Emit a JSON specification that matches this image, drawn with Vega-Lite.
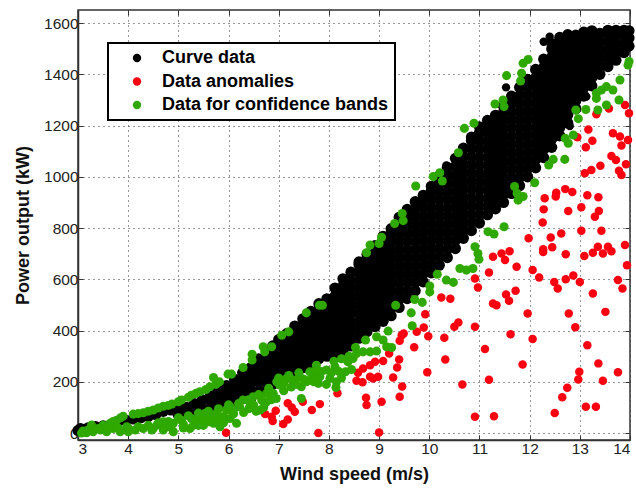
{"$schema":"https://vega.github.io/schema/vega-lite/v6.json","width":552,"height":430,"autosize":{"type":"none"},"padding":{"left":78,"top":10,"right":6,"bottom":49},"background":"white",
"datasets":{"curve":[
{"w":3.0,"p":10},{"w":3.05,"p":18},{"w":3.1,"p":12},{"w":3.2,"p":20},{"w":3.35,"p":25},{"w":3.5,"p":28},{"w":3.65,"p":30},{"w":3.8,"p":45},{"w":3.95,"p":50},{"w":4.1,"p":55},{"w":4.25,"p":60},{"w":4.4,"p":65},{"w":4.55,"p":72},{"w":4.7,"p":85},{"w":4.85,"p":90},{"w":5.0,"p":95},{"w":5.0,"p":70},{"w":5.16,"p":100},{"w":5.16,"p":75},{"w":5.32,"p":115},{"w":5.32,"p":85},{"w":5.48,"p":130},{"w":5.48,"p":95},{"w":5.64,"p":155},{"w":5.64,"p":125},{"w":5.64,"p":95},{"w":5.8,"p":170},{"w":5.8,"p":140},{"w":5.8,"p":110},{"w":5.96,"p":185},{"w":5.96,"p":155},{"w":5.96,"p":125},{"w":6.12,"p":210},{"w":6.12,"p":180},{"w":6.12,"p":150},{"w":6.12,"p":120},{"w":6.28,"p":235},{"w":6.28,"p":205},{"w":6.28,"p":175},{"w":6.28,"p":140},{"w":6.44,"p":255},{"w":6.44,"p":225},{"w":6.44,"p":195},{"w":6.44,"p":165},{"w":6.44,"p":135},{"w":6.6,"p":290},{"w":6.6,"p":260},{"w":6.6,"p":230},{"w":6.6,"p":200},{"w":6.6,"p":165},{"w":6.76,"p":320},{"w":6.76,"p":290},{"w":6.76,"p":260},{"w":6.76,"p":230},{"w":6.76,"p":200},{"w":6.76,"p":170},{"w":6.88,"p":340},{"w":6.88,"p":310},{"w":6.88,"p":280},{"w":6.88,"p":250},{"w":6.88,"p":220},{"w":6.88,"p":190},
{"w":7.0,"p":210},{"w":7.0,"p":242},{"w":7.0,"p":274},{"w":7.0,"p":306},{"w":7.0,"p":338},{"w":7.0,"p":365},
{"w":7.16,"p":228},{"w":7.16,"p":260},{"w":7.16,"p":292},{"w":7.16,"p":324},{"w":7.16,"p":356},{"w":7.16,"p":388},
{"w":7.32,"p":240},{"w":7.32,"p":272},{"w":7.32,"p":304},{"w":7.32,"p":336},{"w":7.32,"p":368},{"w":7.32,"p":400},{"w":7.32,"p":418},
{"w":7.48,"p":255},{"w":7.48,"p":287},{"w":7.48,"p":319},{"w":7.48,"p":351},{"w":7.48,"p":383},{"w":7.48,"p":415},{"w":7.48,"p":446},
{"w":7.64,"p":270},{"w":7.64,"p":302},{"w":7.64,"p":334},{"w":7.64,"p":366},{"w":7.64,"p":398},{"w":7.64,"p":430},{"w":7.64,"p":462},{"w":7.64,"p":475},
{"w":7.8,"p":290},{"w":7.8,"p":322},{"w":7.8,"p":354},{"w":7.8,"p":386},{"w":7.8,"p":418},{"w":7.8,"p":450},{"w":7.8,"p":482},{"w":7.8,"p":505},
{"w":7.96,"p":300},{"w":7.96,"p":332},{"w":7.96,"p":364},{"w":7.96,"p":396},{"w":7.96,"p":428},{"w":7.96,"p":460},{"w":7.96,"p":492},{"w":7.96,"p":524},
{"w":8.12,"p":310},{"w":8.12,"p":342},{"w":8.12,"p":374},{"w":8.12,"p":406},{"w":8.12,"p":438},{"w":8.12,"p":470},{"w":8.12,"p":502},{"w":8.12,"p":534},{"w":8.12,"p":566},
{"w":8.28,"p":318},{"w":8.28,"p":350},{"w":8.28,"p":382},{"w":8.28,"p":414},{"w":8.28,"p":446},{"w":8.28,"p":478},{"w":8.28,"p":510},{"w":8.28,"p":542},{"w":8.28,"p":574},{"w":8.28,"p":602},
{"w":8.44,"p":340},{"w":8.44,"p":372},{"w":8.44,"p":404},{"w":8.44,"p":436},{"w":8.44,"p":468},{"w":8.44,"p":500},{"w":8.44,"p":532},{"w":8.44,"p":564},{"w":8.44,"p":596},{"w":8.44,"p":628},
{"w":8.6,"p":370},{"w":8.6,"p":402},{"w":8.6,"p":434},{"w":8.6,"p":466},{"w":8.6,"p":498},{"w":8.6,"p":530},{"w":8.6,"p":562},{"w":8.6,"p":594},{"w":8.6,"p":626},{"w":8.6,"p":658},{"w":8.6,"p":668},
{"w":8.76,"p":396},{"w":8.76,"p":428},{"w":8.76,"p":460},{"w":8.76,"p":492},{"w":8.76,"p":524},{"w":8.76,"p":556},{"w":8.76,"p":588},{"w":8.76,"p":620},{"w":8.76,"p":652},{"w":8.76,"p":684},{"w":8.76,"p":698},
{"w":8.92,"p":416},{"w":8.92,"p":448},{"w":8.92,"p":480},{"w":8.92,"p":512},{"w":8.92,"p":544},{"w":8.92,"p":576},{"w":8.92,"p":608},{"w":8.92,"p":640},{"w":8.92,"p":672},{"w":8.92,"p":704},{"w":8.92,"p":732},
{"w":9.08,"p":436},{"w":9.08,"p":468},{"w":9.08,"p":500},{"w":9.08,"p":532},{"w":9.08,"p":564},{"w":9.08,"p":596},{"w":9.08,"p":628},{"w":9.08,"p":660},{"w":9.08,"p":692},{"w":9.08,"p":724},{"w":9.08,"p":756},{"w":9.08,"p":768},
{"w":9.24,"p":458},{"w":9.24,"p":490},{"w":9.24,"p":522},{"w":9.24,"p":554},{"w":9.24,"p":586},{"w":9.24,"p":618},{"w":9.24,"p":650},{"w":9.24,"p":682},{"w":9.24,"p":714},{"w":9.24,"p":746},{"w":9.24,"p":778},{"w":9.24,"p":798},
{"w":9.4,"p":490},{"w":9.4,"p":522},{"w":9.4,"p":554},{"w":9.4,"p":586},{"w":9.4,"p":618},{"w":9.4,"p":650},{"w":9.4,"p":682},{"w":9.4,"p":714},{"w":9.4,"p":746},{"w":9.4,"p":778},{"w":9.4,"p":810},{"w":9.4,"p":842},
{"w":9.56,"p":525},{"w":9.56,"p":557},{"w":9.56,"p":589},{"w":9.56,"p":621},{"w":9.56,"p":653},{"w":9.56,"p":685},{"w":9.56,"p":717},{"w":9.56,"p":749},{"w":9.56,"p":781},{"w":9.56,"p":813},{"w":9.56,"p":845},{"w":9.56,"p":873},
{"w":9.72,"p":555},{"w":9.72,"p":587},{"w":9.72,"p":619},{"w":9.72,"p":651},{"w":9.72,"p":683},{"w":9.72,"p":715},{"w":9.72,"p":747},{"w":9.72,"p":779},{"w":9.72,"p":811},{"w":9.72,"p":843},{"w":9.72,"p":875},{"w":9.72,"p":903},
{"w":9.88,"p":590},{"w":9.88,"p":622},{"w":9.88,"p":654},{"w":9.88,"p":686},{"w":9.88,"p":718},{"w":9.88,"p":750},{"w":9.88,"p":782},{"w":9.88,"p":814},{"w":9.88,"p":846},{"w":9.88,"p":878},{"w":9.88,"p":910},{"w":9.88,"p":928},
{"w":10.04,"p":625},{"w":10.04,"p":657},{"w":10.04,"p":689},{"w":10.04,"p":721},{"w":10.04,"p":753},{"w":10.04,"p":785},{"w":10.04,"p":817},{"w":10.04,"p":849},{"w":10.04,"p":881},{"w":10.04,"p":913},{"w":10.04,"p":945},{"w":10.04,"p":963},
{"w":10.2,"p":655},{"w":10.2,"p":687},{"w":10.2,"p":719},{"w":10.2,"p":751},{"w":10.2,"p":783},{"w":10.2,"p":815},{"w":10.2,"p":847},{"w":10.2,"p":879},{"w":10.2,"p":911},{"w":10.2,"p":943},{"w":10.2,"p":975},{"w":10.2,"p":1003},
{"w":10.36,"p":685},{"w":10.36,"p":717},{"w":10.36,"p":749},{"w":10.36,"p":781},{"w":10.36,"p":813},{"w":10.36,"p":845},{"w":10.36,"p":877},{"w":10.36,"p":909},{"w":10.36,"p":941},{"w":10.36,"p":973},{"w":10.36,"p":1005},{"w":10.36,"p":1037},
{"w":10.52,"p":720},{"w":10.52,"p":752},{"w":10.52,"p":784},{"w":10.52,"p":816},{"w":10.52,"p":848},{"w":10.52,"p":880},{"w":10.52,"p":912},{"w":10.52,"p":944},{"w":10.52,"p":976},{"w":10.52,"p":1008},{"w":10.52,"p":1040},{"w":10.52,"p":1072},
{"w":10.68,"p":760},{"w":10.68,"p":792},{"w":10.68,"p":824},{"w":10.68,"p":856},{"w":10.68,"p":888},{"w":10.68,"p":920},{"w":10.68,"p":952},{"w":10.68,"p":984},{"w":10.68,"p":1016},{"w":10.68,"p":1048},{"w":10.68,"p":1080},{"w":10.68,"p":1112},
{"w":10.84,"p":790},{"w":10.84,"p":822},{"w":10.84,"p":854},{"w":10.84,"p":886},{"w":10.84,"p":918},{"w":10.84,"p":950},{"w":10.84,"p":982},{"w":10.84,"p":1014},{"w":10.84,"p":1046},{"w":10.84,"p":1078},{"w":10.84,"p":1110},{"w":10.84,"p":1142},{"w":10.84,"p":1155},
{"w":11.0,"p":820},{"w":11.0,"p":852},{"w":11.0,"p":884},{"w":11.0,"p":916},{"w":11.0,"p":948},{"w":11.0,"p":980},{"w":11.0,"p":1012},{"w":11.0,"p":1044},{"w":11.0,"p":1076},{"w":11.0,"p":1108},{"w":11.0,"p":1140},{"w":11.0,"p":1172},{"w":11.0,"p":1195},
{"w":11.16,"p":852},{"w":11.16,"p":884},{"w":11.16,"p":916},{"w":11.16,"p":948},{"w":11.16,"p":980},{"w":11.16,"p":1012},{"w":11.16,"p":1044},{"w":11.16,"p":1076},{"w":11.16,"p":1108},{"w":11.16,"p":1140},{"w":11.16,"p":1172},{"w":11.16,"p":1204},{"w":11.16,"p":1220},
{"w":11.32,"p":875},{"w":11.32,"p":907},{"w":11.32,"p":939},{"w":11.32,"p":971},{"w":11.32,"p":1003},{"w":11.32,"p":1035},{"w":11.32,"p":1067},{"w":11.32,"p":1099},{"w":11.32,"p":1131},{"w":11.32,"p":1163},{"w":11.32,"p":1195},{"w":11.32,"p":1227},{"w":11.32,"p":1240},
{"w":11.48,"p":900},{"w":11.48,"p":932},{"w":11.48,"p":964},{"w":11.48,"p":996},{"w":11.48,"p":1028},{"w":11.48,"p":1060},{"w":11.48,"p":1092},{"w":11.48,"p":1124},{"w":11.48,"p":1156},{"w":11.48,"p":1188},{"w":11.48,"p":1220},{"w":11.48,"p":1252},{"w":11.48,"p":1275},
{"w":11.64,"p":935},{"w":11.64,"p":967},{"w":11.64,"p":999},{"w":11.64,"p":1031},{"w":11.64,"p":1063},{"w":11.64,"p":1095},{"w":11.64,"p":1127},{"w":11.64,"p":1159},{"w":11.64,"p":1191},{"w":11.64,"p":1223},{"w":11.64,"p":1255},{"w":11.64,"p":1287},{"w":11.64,"p":1315},
{"w":11.8,"p":965},{"w":11.8,"p":997},{"w":11.8,"p":1029},{"w":11.8,"p":1061},{"w":11.8,"p":1093},{"w":11.8,"p":1125},{"w":11.8,"p":1157},{"w":11.8,"p":1189},{"w":11.8,"p":1221},{"w":11.8,"p":1253},{"w":11.8,"p":1285},{"w":11.8,"p":1317},{"w":11.8,"p":1349},
{"w":11.96,"p":1000},{"w":11.96,"p":1032},{"w":11.96,"p":1064},{"w":11.96,"p":1096},{"w":11.96,"p":1128},{"w":11.96,"p":1160},{"w":11.96,"p":1192},{"w":11.96,"p":1224},{"w":11.96,"p":1256},{"w":11.96,"p":1288},{"w":11.96,"p":1320},{"w":11.96,"p":1352},{"w":11.96,"p":1380},
{"w":12.12,"p":1035},{"w":12.12,"p":1067},{"w":12.12,"p":1099},{"w":12.12,"p":1131},{"w":12.12,"p":1163},{"w":12.12,"p":1195},{"w":12.12,"p":1227},{"w":12.12,"p":1259},{"w":12.12,"p":1291},{"w":12.12,"p":1323},{"w":12.12,"p":1355},{"w":12.12,"p":1387},{"w":12.12,"p":1419},
{"w":12.28,"p":1075},{"w":12.28,"p":1107},{"w":12.28,"p":1139},{"w":12.28,"p":1171},{"w":12.28,"p":1203},{"w":12.28,"p":1235},{"w":12.28,"p":1267},{"w":12.28,"p":1299},{"w":12.28,"p":1331},{"w":12.28,"p":1363},{"w":12.28,"p":1395},{"w":12.28,"p":1427},{"w":12.28,"p":1459},
{"w":12.44,"p":1115},{"w":12.44,"p":1147},{"w":12.44,"p":1179},{"w":12.44,"p":1211},{"w":12.44,"p":1243},{"w":12.44,"p":1275},{"w":12.44,"p":1307},{"w":12.44,"p":1339},{"w":12.44,"p":1371},{"w":12.44,"p":1403},{"w":12.44,"p":1435},{"w":12.44,"p":1467},{"w":12.44,"p":1499},{"w":12.44,"p":1520},
{"w":12.6,"p":1160},{"w":12.6,"p":1192},{"w":12.6,"p":1224},{"w":12.6,"p":1256},{"w":12.6,"p":1288},{"w":12.6,"p":1320},{"w":12.6,"p":1352},{"w":12.6,"p":1384},{"w":12.6,"p":1416},{"w":12.6,"p":1448},{"w":12.6,"p":1480},{"w":12.6,"p":1512},{"w":12.6,"p":1544},
{"w":12.76,"p":1210},{"w":12.76,"p":1242},{"w":12.76,"p":1274},{"w":12.76,"p":1306},{"w":12.76,"p":1338},{"w":12.76,"p":1370},{"w":12.76,"p":1402},{"w":12.76,"p":1434},{"w":12.76,"p":1466},{"w":12.76,"p":1498},{"w":12.76,"p":1530},{"w":12.76,"p":1555},
{"w":12.92,"p":1265},{"w":12.92,"p":1297},{"w":12.92,"p":1329},{"w":12.92,"p":1361},{"w":12.92,"p":1393},{"w":12.92,"p":1425},{"w":12.92,"p":1457},{"w":12.92,"p":1489},{"w":12.92,"p":1521},{"w":12.92,"p":1553},
{"w":13.08,"p":1315},{"w":13.08,"p":1347},{"w":13.08,"p":1379},{"w":13.08,"p":1411},{"w":13.08,"p":1443},{"w":13.08,"p":1475},{"w":13.08,"p":1507},{"w":13.08,"p":1539},{"w":13.08,"p":1565},
{"w":13.24,"p":1355},{"w":13.24,"p":1387},{"w":13.24,"p":1419},{"w":13.24,"p":1451},{"w":13.24,"p":1483},{"w":13.24,"p":1515},{"w":13.24,"p":1547},{"w":13.24,"p":1570},
{"w":13.4,"p":1400},{"w":13.4,"p":1432},{"w":13.4,"p":1464},{"w":13.4,"p":1496},{"w":13.4,"p":1528},{"w":13.4,"p":1560},
{"w":13.56,"p":1430},{"w":13.56,"p":1462},{"w":13.56,"p":1494},{"w":13.56,"p":1526},{"w":13.56,"p":1558},{"w":13.56,"p":1572},
{"w":13.72,"p":1455},{"w":13.72,"p":1487},{"w":13.72,"p":1519},{"w":13.72,"p":1551},{"w":13.72,"p":1572},
{"w":13.88,"p":1485},{"w":13.88,"p":1517},{"w":13.88,"p":1549},{"w":13.88,"p":1572},
{"w":13.98,"p":1510},{"w":13.98,"p":1542},{"w":13.98,"p":1570}
],"stray":[{"w":11.53,"p":1349},{"w":10.34,"p":1044},{"w":12.28,"p":1527},{"w":12.4,"p":1547},{"w":13.13,"p":1313},{"w":12.8,"p":1198}],"anom":[
{"w":11.27,"p":688},{"w":11.44,"p":701},{"w":11.6,"p":710},{"w":11.51,"p":675},{"w":11.74,"p":649},{"w":11.19,"p":627},{"w":10.91,"p":603},{"w":10.97,"p":568},{"w":12.06,"p":636},{"w":12.19,"p":607},{"w":12.49,"p":590},{"w":12.56,"p":564},{"w":12.72,"p":600},{"w":12.87,"p":615},{"w":13.0,"p":590},{"w":12.27,"p":707},{"w":12.72,"p":698},{"w":13.09,"p":691},{"w":13.26,"p":704},{"w":13.46,"p":701},{"w":13.63,"p":710},{"w":13.94,"p":655},{"w":13.76,"p":597},{"w":13.85,"p":564},{"w":13.26,"p":545},{"w":13.51,"p":473},{"w":12.78,"p":467},{"w":12.91,"p":413},{"w":11.96,"p":467},{"w":11.72,"p":555},{"w":11.53,"p":541},{"w":11.59,"p":516},{"w":11.27,"p":506},{"w":11.34,"p":499},{"w":10.24,"p":529},{"w":10.42,"p":524},{"w":9.92,"p":464},{"w":10.58,"p":432},{"w":10.5,"p":415},{"w":10.91,"p":415},{"w":11.62,"p":386},{"w":12.06,"p":367},{"w":10.3,"p":372},{"w":11.11,"p":328},{"w":13.15,"p":343},{"w":9.98,"p":378},{"w":9.89,"p":412},{"w":9.75,"p":395},{"w":9.45,"p":382},{"w":9.49,"p":389},{"w":9.41,"p":360},{"w":9.7,"p":335},{"w":9.2,"p":311},{"w":10.32,"p":287},{"w":11.86,"p":268},{"w":13.37,"p":272},{"w":13.76,"p":237},{"w":12.99,"p":239},{"w":12.97,"p":209},{"w":13.46,"p":204},{"w":11.19,"p":208},{"w":10.66,"p":190},{"w":9.96,"p":237},{"w":9.4,"p":287},{"w":9.36,"p":256},{"w":9.28,"p":217},{"w":9.46,"p":182},{"w":9.41,"p":142},{"w":9.05,"p":122},{"w":8.74,"p":138},{"w":8.75,"p":110},{"w":8.17,"p":155},{"w":12.75,"p":177},{"w":12.65,"p":140},{"w":12.5,"p":78},{"w":13.12,"p":103},{"w":13.32,"p":103},{"w":10.91,"p":64},{"w":11.29,"p":66},{"w":9.0,"p":2},{"w":7.79,"p":0},{"w":7.82,"p":113},{"w":9.08,"p":281},{"w":8.92,"p":278},{"w":8.82,"p":265},{"w":8.68,"p":252},{"w":8.58,"p":235},{"w":8.55,"p":204},{"w":8.67,"p":198},{"w":8.82,"p":220},{"w":8.98,"p":220},{"w":8.88,"p":213},
{"w":13.33,"p":1244},{"w":13.58,"p":1267},{"w":13.9,"p":1280},{"w":13.98,"p":1248},{"w":12.95,"p":1154},{"w":13.17,"p":1185},{"w":13.66,"p":1170},{"w":13.8,"p":1157},{"w":13.96,"p":1144},{"w":13.83,"p":1122},{"w":13.25,"p":1141},{"w":13.12,"p":1115},{"w":13.63,"p":1081},{"w":13.72,"p":1066},{"w":13.92,"p":1049},{"w":13.41,"p":1043},{"w":13.23,"p":1027},{"w":13.1,"p":1014},{"w":13.78,"p":1024},{"w":13.83,"p":1007},{"w":12.71,"p":952},{"w":12.85,"p":941},{"w":12.53,"p":938},{"w":12.52,"p":923},{"w":12.3,"p":916},{"w":13.15,"p":928},{"w":13.37,"p":920},{"w":12.28,"p":873},{"w":12.77,"p":867},{"w":13.03,"p":881},{"w":13.38,"p":867},{"w":13.3,"p":844},{"w":12.26,"p":822},{"w":12.63,"p":779},{"w":12.42,"p":763},{"w":11.98,"p":760},{"w":13.03,"p":790},{"w":13.43,"p":790},{"w":13.9,"p":734},{"w":13.36,"p":727},{"w":13.56,"p":727},{"w":12.45,"p":725},{"w":12.27,"p":717},
{"w":5.95,"p":1},{"w":6.73,"p":74},{"w":6.94,"p":87},{"w":6.86,"p":64},{"w":6.88,"p":47},{"w":7.09,"p":35},{"w":7.18,"p":53},{"w":7.18,"p":116},{"w":7.26,"p":100},{"w":7.32,"p":83},{"w":7.48,"p":122},{"w":7.66,"p":90}
],"conf":[
{"w":13.96,"p":1436},{"w":13.98,"p":1450},{"w":13.8,"p":1378},{"w":13.43,"p":1339},{"w":13.33,"p":1326},{"w":13.53,"p":1352},{"w":13.33,"p":1306},{"w":13.66,"p":1339},{"w":13.78,"p":1300},{"w":13.53,"p":1280},{"w":13.36,"p":1261},{"w":13.12,"p":1263},{"w":12.92,"p":1261},{"w":12.97,"p":1227},{"w":12.87,"p":1163},{"w":12.71,"p":1150},{"w":12.77,"p":1131},{"w":12.7,"p":1068},{"w":12.47,"p":1068},{"w":12.38,"p":1046},{"w":12.1,"p":977},{"w":11.7,"p":962},{"w":11.77,"p":909},{"w":11.87,"p":923},{"w":11.75,"p":936},{"w":11.49,"p":805},{"w":11.17,"p":786},{"w":11.29,"p":777},{"w":10.91,"p":727},
{"w":11.97,"p":1458},{"w":11.87,"p":1443},{"w":11.84,"p":1404},{"w":11.82,"p":1374},{"w":11.54,"p":1395},{"w":11.47,"p":1300},{"w":11.31,"p":1284},{"w":11.49,"p":1274},{"w":10.89,"p":1209},{"w":10.7,"p":1189},{"w":10.58,"p":1094},{"w":10.21,"p":1016},{"w":10.08,"p":1001},{"w":10.26,"p":984},{"w":9.73,"p":964},{"w":9.46,"p":857},{"w":9.31,"p":818},{"w":9.48,"p":829},{"w":9.05,"p":764},{"w":8.82,"p":734},{"w":9.0,"p":740},
{"w":10.97,"p":701},{"w":10.99,"p":678},{"w":10.16,"p":620},{"w":10.34,"p":597},{"w":10.48,"p":588},{"w":10.87,"p":642},{"w":10.74,"p":636},{"w":10.61,"p":642},{"w":10.01,"p":574},{"w":10.01,"p":551},{"w":9.33,"p":499},{"w":9.71,"p":521},{"w":9.86,"p":510},{"w":9.64,"p":469},{"w":9.66,"p":419},{"w":9.18,"p":398},{"w":8.73,"p":363},{"w":8.95,"p":376},{"w":9.08,"p":363},{"w":9.25,"p":334},{"w":9.15,"p":337},{"w":8.53,"p":334},{"w":8.68,"p":317},{"w":8.82,"p":317},{"w":8.95,"p":320},{"w":8.48,"p":291},{"w":8.38,"p":278},{"w":8.33,"p":239},{"w":8.45,"p":248},{"w":8.12,"p":259},{"w":7.95,"p":246},{"w":8.02,"p":213},{"w":8.15,"p":200},{"w":8.14,"p":178},{"w":7.82,"p":220},{"w":7.87,"p":499},{"w":8.75,"p":704},
{"w":7.81,"p":499},{"w":7.55,"p":469},{"w":7.2,"p":395},{"w":7.06,"p":382},{"w":6.86,"p":337},{"w":6.69,"p":337},{"w":6.72,"p":317},{"w":6.47,"p":308},{"w":6.47,"p":285},{"w":6.29,"p":256},{"w":6.06,"p":230},{"w":5.99,"p":230},{"w":5.82,"p":200},{"w":5.7,"p":217},{"w":5.63,"p":181},{"w":5.43,"p":161},{"w":5.26,"p":148},{"w":5.06,"p":129},{"w":4.87,"p":113},{"w":4.7,"p":105},{"w":4.5,"p":90},{"w":4.3,"p":79},{"w":4.1,"p":74},{"w":3.9,"p":66},{"w":3.77,"p":50},{"w":3.64,"p":38},{"w":3.27,"p":31},
{"w":4.2,"p":76},{"w":4.4,"p":85},{"w":4.6,"p":98},{"w":4.8,"p":108},{"w":5.0,"p":122},{"w":5.2,"p":140},{"w":5.35,"p":155},{"w":5.55,"p":170},{"w":5.75,"p":190},{"w":3.85,"p":60},{"w":3.7,"p":45},{"w":3.5,"p":30},
{"w":3.07,"p":0},{"w":3.17,"p":1},{"w":3.3,"p":5},{"w":3.45,"p":12},{"w":3.57,"p":5},{"w":3.7,"p":18},{"w":3.84,"p":5},{"w":4.0,"p":5},{"w":3.97,"p":25},{"w":4.14,"p":12},{"w":4.3,"p":18},{"w":4.47,"p":12},{"w":4.57,"p":31},{"w":4.7,"p":44},{"w":4.77,"p":25},{"w":4.9,"p":5},{"w":4.9,"p":38},{"w":5.06,"p":50},{"w":5.23,"p":18},{"w":5.26,"p":57},{"w":5.43,"p":70},{"w":5.6,"p":44},{"w":5.7,"p":38},{"w":5.53,"p":77},{"w":5.76,"p":77},{"w":5.83,"p":25},{"w":5.96,"p":90},{"w":6.03,"p":57},{"w":6.16,"p":38},{"w":6.03,"p":103},{"w":6.22,"p":103},{"w":6.29,"p":129},{"w":6.43,"p":116},{"w":6.49,"p":142},{"w":6.63,"p":90},{"w":6.66,"p":129},{"w":6.76,"p":155},{"w":6.89,"p":155},{"w":6.96,"p":200},{"w":7.02,"p":187},{"w":7.16,"p":213},{"w":7.29,"p":207},{"w":7.42,"p":220},{"w":7.45,"p":135},{"w":7.55,"p":200},{"w":7.62,"p":239},{"w":7.75,"p":265},{"w":7.79,"p":194},{"w":7.69,"p":220},{"w":7.45,"p":181},
{"w":5.0,"p":60},{"w":5.1,"p":35},{"w":5.3,"p":30},{"w":5.35,"p":45},{"w":5.5,"p":30},{"w":5.5,"p":55},{"w":5.65,"p":60},{"w":5.8,"p":55},{"w":5.9,"p":65},{"w":5.9,"p":40},{"w":6.1,"p":75},{"w":6.1,"p":90},{"w":6.3,"p":80},{"w":6.4,"p":95},{"w":6.5,"p":110},{"w":6.55,"p":85},{"w":6.7,"p":100},{"w":6.75,"p":120},{"w":6.85,"p":130},{"w":6.95,"p":135},{"w":7.1,"p":165},{"w":7.1,"p":195},{"w":7.25,"p":180},{"w":7.35,"p":190},{"w":7.5,"p":210},{"w":7.6,"p":205},{"w":7.7,"p":200},{"w":7.85,"p":240},{"w":7.95,"p":190},{"w":8.05,"p":235},{"w":8.2,"p":240},{"w":8.25,"p":215},{"w":8.1,"p":280},{"w":8.25,"p":290},{"w":8.4,"p":300},{"w":8.55,"p":310},{"w":7.7,"p":240},{"w":7.4,"p":235},{"w":7.2,"p":225},{"w":7.0,"p":215},{"w":6.8,"p":175},{"w":6.6,"p":150},{"w":6.4,"p":130},{"w":6.2,"p":115},{"w":6.0,"p":110},{"w":5.8,"p":95},{"w":5.6,"p":85},{"w":5.4,"p":78},{"w":5.2,"p":68},{"w":4.8,"p":45},{"w":4.6,"p":40},{"w":4.4,"p":30},{"w":4.2,"p":25},{"w":4.0,"p":20},{"w":3.8,"p":20},{"w":3.6,"p":22},{"w":3.4,"p":18},{"w":3.2,"p":12},{"w":3.1,"p":8},{"w":4.5,"p":18},{"w":4.7,"p":12},{"w":4.85,"p":25},{"w":5.1,"p":20},{"w":5.4,"p":30}
]},
"layer":[
{"data":{"name":"curve"},"mark":{"type":"point","filled":true,"opacity":1,"size":125},
"encoding":{"x":{"field":"w","type":"quantitative","scale":{"domain":[3,14],"nice":false,"zero":false},"axis":{"title":"Wind speed (m/s)","values":[3,4,5,6,7,8,9,10,11,12,13,14],"grid":true}},
"y":{"field":"p","type":"quantitative","scale":{"domain":[-27,1651],"nice":false,"zero":false},"axis":{"title":"Power output (kW)","format":"d","values":[0,200,400,600,800,1000,1200,1400,1600],"grid":true}},
"color":{"datum":"Curve data","scale":{"domain":["Curve data","Data anomalies","Data for confidence bands"],"range":["#000000","#fa0010","#2fa800"]},"legend":{"title":null,"orient":"none","legendX":30,"legendY":33}}}},
{"data":{"name":"stray"},"mark":{"type":"point","filled":true,"opacity":1,"size":70},
"encoding":{"x":{"field":"w","type":"quantitative","axis":null},"y":{"field":"p","type":"quantitative","axis":null},"color":{"datum":"Curve data"}}},
{"data":{"name":"anom"},"mark":{"type":"point","filled":true,"opacity":1,"size":72},
"encoding":{"x":{"field":"w","type":"quantitative","axis":null},"y":{"field":"p","type":"quantitative","axis":null},"color":{"datum":"Data anomalies"}}},
{"data":{"name":"conf"},"mark":{"type":"point","filled":true,"opacity":1,"size":82},
"encoding":{"x":{"field":"w","type":"quantitative","axis":{"orient":"top","title":null,"labels":false,"grid":false,"domain":false,"values":[3,4,5,6,7,8,9,10,11,12,13,14]}},"y":{"field":"p","type":"quantitative","axis":{"orient":"right","title":null,"labels":false,"grid":false,"domain":false,"values":[0,200,400,600,800,1000,1200,1400,1600]}},"color":{"datum":"Data for confidence bands"}}}
],
"resolve":{"axis":{"x":"independent","y":"independent"}},
"config":{"font":"Liberation Sans","view":{"stroke":"#333333","strokeWidth":1.5},
"axis":{"gridColor":"#333333","gridDash":[1,4],"gridOpacity":1,"gridWidth":1,"domainColor":"#333333","domainWidth":1.5,"tickColor":"#333333","tickSize":-5,"tickWidth":1,"labelFont":"Liberation Sans","labelFontSize":15.5,"labelColor":"#222222","labelPadding":5,"titleFont":"Liberation Sans","titleFontSize":18,"titleFontWeight":"bold","titleColor":"#111111"},
"axisX":{"labelPadding":6,"titlePadding":9},"axisY":{"titlePadding":11},
"legend":{"fillColor":"#ffffff","strokeColor":"#000000","strokeWidth":2,"padding":6,"symbolType":"circle","symbolSize":70,"symbolStrokeWidth":0,"symbolOffset":14,"labelFont":"Liberation Sans","labelFontSize":18,"labelFontWeight":"bold","labelColor":"#000000","labelOffset":16,"rowPadding":5.5,"symbolOpacity":1,"labelLimit":300}}}
